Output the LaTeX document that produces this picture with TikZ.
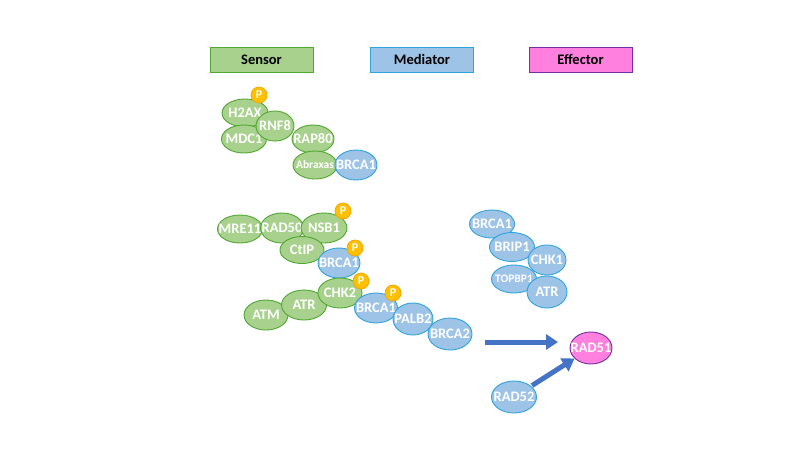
\documentclass[tikz,border=0pt]{standalone}
\usepackage{fontspec}
\setmainfont{Carlito}
\usetikzlibrary{shapes.geometric,arrows.meta}
\definecolor{gfill}{HTML}{A9D18E}
\definecolor{gline}{HTML}{4EA72E}
\definecolor{bfill}{HTML}{9DC3E6}
\definecolor{bline}{HTML}{2EA3DC}
\definecolor{pfill}{HTML}{FF80DF}
\definecolor{pline}{HTML}{7030A0}
\definecolor{ofill}{HTML}{FFC000}
\definecolor{oline}{HTML}{F4A300}
\definecolor{arr}{HTML}{4472C4}
\newcommand{\zw}[1]{\makebox[0pt]{#1}}
\tikzset{
  ell/.style n args={2}{ellipse, minimum width=#1pt, minimum height=#2pt, inner sep=0pt, line width=0.9pt, text=white, font=\fontsize{14.5}{14.5}\selectfont\bfseries},
  gn/.style 2 args={ell={#1}{#2}, fill=gfill, draw=gline},
  bn/.style 2 args={ell={#1}{#2}, fill=bfill, draw=bline},
  pn/.style 2 args={ell={#1}{#2}, fill=pfill, draw=pline},
  phos/.style={circle, minimum size=16pt, inner sep=0pt, fill=ofill, draw=oline, line width=0.7pt, text=white, font=\fontsize{12}{12}\selectfont\bfseries},
  legend/.style={rectangle, minimum width=103pt, minimum height=25pt, inner sep=0pt, line width=0.9pt, font=\fontsize{14.5}{14.5}\selectfont\bfseries},
  bigarrow/.style={arr, line width=5pt, -{Triangle[length=12pt,width=15pt]}},
  small/.style={font=\fontsize{11.5}{11.5}\selectfont\bfseries}
}
\begin{document}
\begin{tikzpicture}[x=1pt,y=-1pt]
\useasboundingbox (0,0) rectangle (800,450);
% legend
\node[legend, fill=gfill, draw=gline] (lsensor) at (261.5,59.5) {Sensor};
\node[legend, fill=bfill, draw=bline] (lmediator) at (422,59.5) {Mediator};
\node[legend, fill=pfill, draw=pline] (leffector) at (580.5,59.5) {Effector};
% cluster 1
\node[gn={46}{28}] (h2ax) at (245,113) {\zw{H2AX}};
\node[gn={45}{28}] (mdc1) at (244,139) {\zw{MDC1}};
\node[gn={38}{30}] (rnf8) at (275,126) {\zw{RNF8}};
\node[gn={42}{28}] (rap80) at (313,139) {\zw{RAP80}};
\node[gn={44}{28}, small] (abraxas) at (315,165) {\zw{Abraxas}};
\node[bn={42}{30}] (brcaA) at (356,165) {\zw{BRCA1}};
\node[phos] (p1) at (259,95) {P};
% cluster 2
\node[gn={45}{28}] (mre11) at (240,229) {\zw{MRE11}};
\node[gn={43}{30}] (rad50) at (282,228) {\zw{RAD50}};
\node[gn={46}{30}] (nsb1) at (324,228) {\zw{NSB1}};
\node[gn={44}{27}] (ctip) at (302,250) {\zw{CtIP}};
\node[bn={42}{30}] (brcaB) at (339,263) {\zw{BRCA1}};
\node[gn={44}{30}] (atm) at (266,315) {\zw{ATM}};
\node[gn={45}{30}] (atr) at (304,305) {\zw{ATR}};
\node[gn={44}{30}] (chk2) at (340,293) {\zw{CHK2}};
\node[bn={43}{30}] (brcaC) at (376,308) {\zw{BRCA1}};
\node[bn={40}{32}] (palb2) at (413,319) {\zw{PALB2}};
\node[bn={44}{32}] (brca2) at (450,334) {\zw{BRCA2}};
\node[phos] (p2) at (343,211) {P};
\node[phos] (p3) at (355,248) {P};
\node[phos] (p4) at (361,281) {P};
\node[phos] (p5) at (393,293) {P};
% cluster 3
\node[bn={45}{28}] (brcaD) at (492,224) {\zw{BRCA1}};
\node[bn={45}{29}] (brip1) at (512,247) {\zw{BRIP1}};
\node[bn={38}{30}] (chk1) at (547,260) {\zw{CHK1}};
\node[bn={45}{28}, small] (topbp1) at (514,279) {\zw{TOPBP1}};
\node[bn={40}{32}] (atrR) at (547,292) {\zw{ATR}};
% effector
\node[pn={42}{32}] (rad51) at (591,348) {\zw{RAD51}};
\node[bn={45}{32}] (rad52) at (514,397) {\zw{RAD52}};
\coordinate (hs) at (485,342);
\coordinate (he) at (558,342);
\draw[bigarrow] (hs) -- (he);
\draw[bigarrow, shorten <=1pt] (rad52) -- (rad51);
\end{tikzpicture}
\end{document}
